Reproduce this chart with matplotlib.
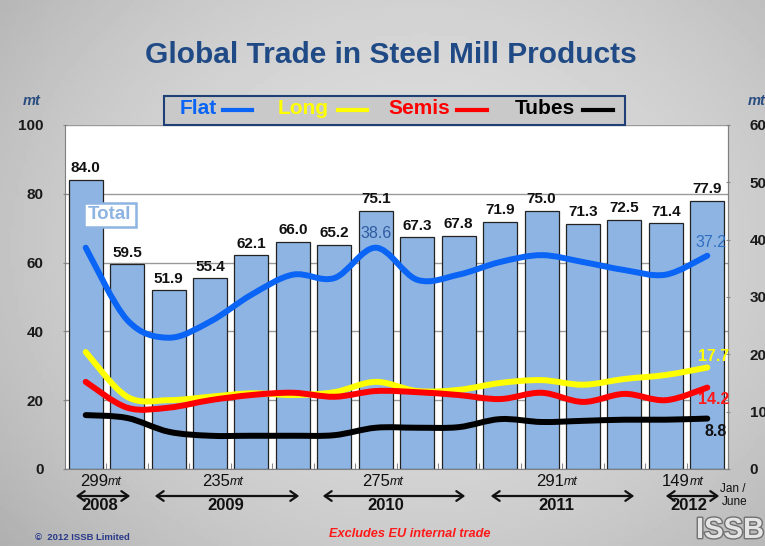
import numpy as np
import matplotlib
matplotlib.use("Agg")
import matplotlib.pyplot as plt
from matplotlib.path import Path
from matplotlib.patches import PathPatch, Rectangle, FancyArrowPatch
import matplotlib.patheffects as pe

plt.rcParams['font.family'] = ['Liberation Sans', 'DejaVu Sans']

# quarterly totals (left axis, mt) - Q3 2008 .. Q2 2012
totals = [84.0, 59.5, 51.9, 55.4, 62.1, 66.0, 65.2, 75.1,
          67.3, 67.8, 71.9, 75.0, 71.3, 72.5, 71.4, 77.9]
# product groups (right axis, mt)
flat = [38.6, 26.0, 22.9, 25.7, 30.4, 33.9, 33.3, 38.6,
        33.0, 33.9, 36.1, 37.3, 36.1, 34.7, 33.9, 37.2]
long_ = [20.4, 12.6, 12.0, 12.6, 13.2, 12.9, 13.4, 15.2,
         13.6, 13.8, 15.0, 15.5, 14.7, 15.7, 16.4, 17.7]
semis = [15.2, 10.7, 10.7, 12.0, 12.9, 13.3, 12.6, 13.6,
         13.4, 12.9, 12.2, 13.3, 11.7, 13.1, 12.0, 14.2]
tubes = [9.4, 8.9, 6.5, 5.8, 5.8, 5.8, 5.9, 7.2,
         7.2, 7.3, 8.7, 8.2, 8.4, 8.6, 8.6, 8.8]
years = ['2008', '2009', '2010', '2011', '2012']
year_totals = ['299', '235', '275', '291', '149']

W, H = 765, 546
fig = plt.figure(figsize=(W / 100, H / 100), dpi=100)


def fx(x):
    return x / W


def fy(y):
    return 1 - y / H


# background gradient
bg = fig.add_axes([0, 0, 1, 1])
gx, gy = np.meshgrid(np.linspace(0, 1, 200), np.linspace(0, 1, 150))
shade = 0.87 - 0.35 * (gx - 0.55) ** 2 - 0.25 * (gy - 0.45) ** 2
bg.imshow(shade, cmap='gray', vmin=0, vmax=1, aspect='auto', extent=[0, 1, 0, 1])
bg.axis('off')

ax = fig.add_axes([fx(65), fy(469), fx(728) - fx(65), fy(125) - fy(469)])
ax.set_facecolor('white')
x = np.arange(len(totals))
ax.bar(x, totals, width=0.82, color='#8eb4e3', edgecolor='#222222', linewidth=0.9, zorder=2)
for xi, v in zip(x, totals):
    ax.text(xi, v + 1.4, f'{v:.1f}', ha='center', va='bottom', fontsize=11,
            fontweight='bold', color='#111111', zorder=3)
ax.set_xlim(-0.5, len(totals) - 0.5)
ax.set_ylim(0, 100)
ax.set_yticks(range(0, 101, 20))
ax.yaxis.grid(True, color='#9a9a9a', linewidth=1)
ax.set_axisbelow(True)
ax.set_xticks(np.arange(len(totals)) + 0.5)
ax.set_xticklabels([])
ax.tick_params(axis='x', length=4, color='#888888', direction='in')
ax.tick_params(axis='y', labelsize=11, pad=14, length=3, direction='inout', color='#888888')
for lab in ax.get_yticklabels():
    lab.set_fontweight('bold')
    lab.set_color('#1a1a1a')
for s in ['left', 'bottom', 'right']:
    ax.spines[s].set_color('#808080')
ax.spines['top'].set_visible(False)

ax2 = ax.twinx()
ax2.set_ylim(0, 60)
ax2.set_yticks(range(0, 61, 10))
ax2.tick_params(axis='y', labelsize=11, pad=14, length=3, direction='inout', color='#888888')
for lab in ax2.get_yticklabels():
    lab.set_fontweight('bold')
    lab.set_color('#1a1a1a')
for s in ['top', 'left', 'bottom']:
    ax2.spines[s].set_visible(False)
ax2.spines['right'].set_color('#808080')


def smooth_path(xs, ys):
    pts = np.column_stack([xs, ys]).astype(float)
    ext = np.vstack([pts[0], pts, pts[-1]])
    verts = [pts[0]]
    codes = [Path.MOVETO]
    for i in range(len(pts) - 1):
        p0, p1, p2, p3 = ext[i], ext[i + 1], ext[i + 2], ext[i + 3]
        verts += [p1 + (p2 - p0) / 6, p2 - (p3 - p1) / 6, p2]
        codes += [Path.CURVE4] * 3
    return Path(verts, codes)


series = [(flat, '#0a64f5'), (long_, '#ffff00'), (semis, '#ff0000'), (tubes, '#000000')]
for vals, col in series:
    ax2.add_patch(PathPatch(smooth_path(x, vals), fill=False, edgecolor=col,
                            lw=4.3, capstyle='round', joinstyle='round', zorder=4))

ax2.text(7, flat[7] + 1.2, f'{flat[7]:.1f}', ha='center', va='bottom', fontsize=11.5, color='#2d5b9e')
ax2.text(15.1, flat[15] + 1.0, f'{flat[15]:.1f}', ha='center', va='bottom', fontsize=11.5, color='#2e6fc0')
ax2.text(15.15, long_[15] + 0.6, f'{long_[15]:.1f}', ha='center', va='bottom', fontsize=11.5,
         color='#ffff00', fontweight='bold')
ax2.text(15.15, semis[15] - 0.8, f'{semis[15]:.1f}', ha='center', va='top', fontsize=11.5,
         color='#ff1a1a', fontweight='bold')
ax2.text(15.2, tubes[15] - 1.0, f'{tubes[15]:.1f}', ha='center', va='top', fontsize=11.5,
         color='#111111', fontweight='bold')

# "Total" tag
fig.text(fx(110), fy(215), 'Total', ha='center', va='center', fontsize=13.5, fontweight='bold',
         color='#8db4e2', zorder=5,
         bbox=dict(boxstyle='square,pad=0.2', facecolor='white', edgecolor='#8db4e2', linewidth=1.8))

# title and axis units
fig.text(fx(391), fy(55), 'Global Trade in Steel Mill Products', ha='center', va='center',
         fontsize=21.5, fontweight='bold', color='#1f4a85')
fig.text(fx(32), fy(101), 'mt', ha='center', va='center', fontsize=10.5, style='italic',
         fontweight='bold', color='#2a4d80')
fig.text(fx(757), fy(101), 'mt', ha='center', va='center', fontsize=10.5, style='italic',
         fontweight='bold', color='#2a4d80')

# legend box
fig.patches.append(Rectangle((fx(164), fy(125)), fx(625) - fx(164), fy(96) - fy(125),
                             transform=fig.transFigure, facecolor='#c9c9c9',
                             edgecolor='#1f3f77', linewidth=1.5, zorder=3))
legend_items = [('Flat', '#0a64f5', 180, 223, 252), ('Long', '#ffff00', 278, 338, 367),
                ('Semis', '#ff0000', 388, 457, 487), ('Tubes', '#000000', 515, 583, 613)]
for name, col, tx, l0, l1 in legend_items:
    fig.text(fx(tx), fy(109), name, ha='left', va='center', fontsize=15, fontweight='bold',
             color=col, zorder=4)
    fig.lines.append(plt.Line2D([fx(l0), fx(l1)], [fy(110), fy(110)], transform=fig.transFigure,
                                color=col, lw=3, zorder=4))

# year spans below the axis
spans = [(73, 133), (152, 302), (320, 468), (488, 637), (663, 722)]
tot_x = [104, 226, 386, 560, 686]
yr_x = [100, 226, 386, 556, 689]
for (a, b), tx, yx, yr, tot in zip(spans, tot_x, yr_x, years, year_totals):
    fig.text(fx(tx + 4), fy(482), tot, ha='right', va='center', fontsize=12, color='#111111')
    fig.text(fx(tx + 4), fy(482), 'mt', ha='left', va='center', fontsize=9, style='italic',
             color='#111111')
    fig.patches.append(FancyArrowPatch((fx(a), fy(496)), (fx(b), fy(496)), transform=fig.transFigure,
                                       arrowstyle='<->,head_length=5,head_width=3.5',
                                       color='#111111', lw=1.6, mutation_scale=1))
    fig.text(fx(yx), fy(505), yr, ha='center', va='center', fontsize=12, fontweight='bold',
             color='#111111')
fig.text(fx(733), fy(489), 'Jan /', ha='center', va='center', fontsize=8.5, color='#111111')
fig.text(fx(735), fy(502), 'June', ha='center', va='center', fontsize=8.5, color='#111111')

# footer
fig.text(fx(35), fy(537), '\u00a9  2012 ISSB Limited', ha='left', va='center', fontsize=6.8,
         fontweight='bold', color='#2a3a8a')
fig.text(fx(410), fy(534), 'Excludes EU internal trade', ha='center', va='center', fontsize=9.2,
         style='italic', fontweight='bold', color='#ff1a1a')
fig.text(fx(696), fy(530), 'ISSB', ha='left', va='center', fontsize=21, fontweight='bold',
         color='#e4e4e4', path_effects=[pe.withStroke(linewidth=2, foreground='#707070')])

fig.savefig('out.png', dpi=100)
